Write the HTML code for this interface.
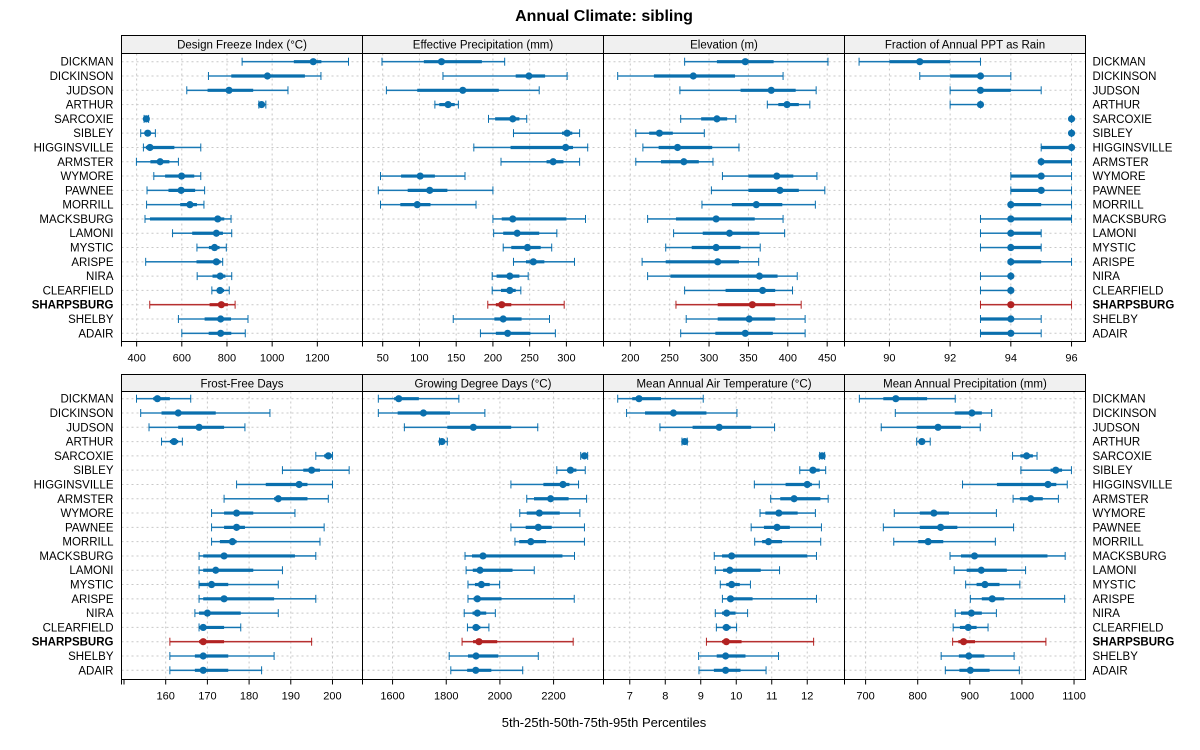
<!DOCTYPE html>
<html><head><meta charset="utf-8"><style>
html,body{margin:0;padding:0;background:#fff;}
svg{display:block;font-family:"Liberation Sans",Arial,sans-serif;}
</style></head><body>
<svg id="chart" width="1200" height="750" viewBox="0 0 1200 750" xmlns="http://www.w3.org/2000/svg">
<text x="604" y="21" text-anchor="middle" font-size="16" font-weight="bold">Annual Climate: sibling</text>
<text x="604" y="727" text-anchor="middle" font-size="13">5th-25th-50th-75th-95th Percentiles</text>
</svg>
<script>
const soils = ["DICKMAN","DICKINSON","JUDSON","ARTHUR","SARCOXIE","SIBLEY","HIGGINSVILLE","ARMSTER","WYMORE","PAWNEE","MORRILL","MACKSBURG","LAMONI","MYSTIC","ARISPE","NIRA","CLEARFIELD","SHARPSBURG","SHELBY","ADAIR"];
const highlight = "SHARPSBURG";
const panelTitles = ["Design Freeze Index (\u00B0C)","Effective Precipitation (mm)","Elevation (m)","Fraction of Annual PPT as Rain","Frost-Free Days","Growing Degree Days (\u00B0C)","Mean Annual Air Temperature (\u00B0C)","Mean Annual Precipitation (mm)"];
const freezeIndex = [[867,1096,1182,1218,1338],[718,819,979,1145,1216],[622,714,809,916,1070],[941,945,953,963,972],[433,436,443,450,453],[418,440,449,461,483],[430,441,459,567,684],[399,461,504,545,585],[476,526,599,655,684],[446,541,597,659,701],[444,593,636,667,698],[437,459,759,788,818],[559,646,753,782,821],[667,720,745,767,797],[440,665,753,772,781],[668,736,770,793,821],[733,756,769,787,810],[458,723,775,804,836],[585,701,772,818,893],[600,719,772,819,881]];
const effPrecip = [[49,106,130,185,216],[132,231,249,271,301],[55,97,159,208,263],[121,127,139,148,153],[194,203,227,236,246],[228,294,301,308,318],[174,224,299,309,329],[211,273,282,296,318],[47,75,101,121,162],[44,84,114,138,200],[47,74,97,115,177],[200,212,227,300,326],[201,214,233,263,287],[214,225,247,265,280],[228,245,255,270,311],[199,205,223,236,248],[199,211,223,231,238],[193,204,212,225,297],[146,202,214,239,277],[183,204,220,251,285]];
const elevation = [[269,310,346,382,451],[184,230,280,333,394],[263,340,379,410,436],[374,388,399,414,428],[264,290,310,323,334],[207,224,237,254,294],[216,236,260,304,338],[207,239,268,287,305],[317,350,386,407,437],[303,350,390,414,447],[291,329,360,393,435],[222,258,309,358,394],[255,292,326,364,396],[245,278,309,340,365],[215,245,311,338,363],[222,251,364,387,412],[269,321,368,384,406],[258,311,355,384,417],[271,311,351,384,422],[264,308,346,381,422]];
const rainFraction = [[89,90,91,92,93],[91,92,93,93,94],[92,93,93,94,95],[92,93,93,93,93],[96,96,96,96,96],[96,96,96,96,96],[95,95,96,96,96],[95,95,95,96,96],[94,94,95,95,96],[94,94,95,95,96],[94,94,94,95,96],[93,94,94,96,96],[93,94,94,95,95],[93,94,94,95,95],[94,94,94,95,96],[93,94,94,94,94],[93,94,94,94,94],[93,94,94,94,96],[93,93,94,94,95],[93,93,94,94,95]];
const frostFree = [[153,157,158,161,166],[154,159,163,172,185],[156,163,168,174,179],[159,161,162,163,164],[196,198,199,200,200],[188,193,195,197,204],[177,184,192,194,200],[174,186,187,194,199],[171,174,177,181,191],[171,174,177,179,198],[171,173,176,177,197],[168,169,174,191,196],[168,169,172,181,188],[168,168,171,175,187],[168,169,174,186,196],[167,168,170,178,187],[168,168,169,174,178],[161,168,169,174,195],[161,167,169,175,186],[161,167,169,175,183]];
const growDegDays = [[1547,1606,1623,1698,1847],[1547,1619,1715,1814,1944],[1644,1804,1901,2042,2141],[1775,1779,1784,1794,1804],[2301,2307,2315,2322,2327],[2212,2251,2263,2285,2318],[2041,2162,2235,2259,2293],[2100,2127,2189,2256,2323],[2074,2100,2147,2223,2298],[2041,2096,2143,2193,2315],[2056,2072,2115,2172,2315],[1870,1896,1937,2233,2278],[1874,1899,1926,2047,2128],[1881,1907,1931,1962,1999],[1881,1902,1916,2006,2277],[1867,1898,1916,1949,1983],[1879,1898,1911,1927,1959],[1859,1900,1922,1990,2273],[1811,1881,1911,1994,2143],[1817,1878,1910,1968,2085]];
const airTemp = [[6.66,7.07,7.26,7.88,9.07],[6.91,7.43,8.23,9.16,10.02],[7.85,8.77,9.52,10.42,11.08],[8.47,8.51,8.55,8.59,8.62],[12.35,12.38,12.42,12.46,12.49],[11.79,12.07,12.16,12.35,12.52],[10.51,11.39,12.0,12.13,12.34],[10.97,11.24,11.63,12.37,12.59],[10.67,10.82,11.2,11.73,12.23],[10.42,10.78,11.15,11.51,12.40],[10.52,10.73,10.91,11.29,12.38],[9.38,9.6,9.87,12.0,12.26],[9.41,9.63,9.82,10.69,11.22],[9.55,9.72,9.87,10.1,10.4],[9.61,9.76,9.84,10.46,12.26],[9.41,9.6,9.73,9.98,10.32],[9.44,9.62,9.72,9.84,10.01],[9.16,9.6,9.72,10.15,12.18],[8.94,9.45,9.7,10.26,11.19],[8.95,9.37,9.7,10.12,10.84]];
const annualPrecip = [[688,734,758,818,872],[757,871,904,923,942],[730,798,839,883,920],[798,804,808,814,824],[982,997,1009,1021,1029],[998,1055,1065,1077,1095],[886,952,1050,1066,1087],[983,996,1017,1040,1070],[755,804,831,860,951],[734,804,844,876,984],[754,801,820,849,949],[862,883,909,1049,1083],[870,894,922,971,1007],[892,913,929,957,996],[901,923,943,966,1082],[872,883,903,923,951],[868,881,897,913,935],[867,878,888,910,1046],[845,879,898,928,985],[853,880,901,938,995]];
const tickLabels = [[400,600,800,1000,1200],[50,100,150,200,250,300],[200,250,300,350,400,450],[90,92,94,96],[160,170,180,190,200],[1600,1800,2000,2200],[7,8,9,10,11,12],[700,800,900,1000,1100]];
const minorTicks = [[],[],[],[],[150],[],[],[]];
const domains = [[333,1400],[22.5,350.5],[166,472],[88.52,96.46],[149.4,207.2],[1488,2386],[6.26,13.05],[659.5,1122]];
const panelData = [freezeIndex,effPrecip,elevation,rainFraction,frostFree,growDegDays,airTemp,annualPrecip];

const NS="http://www.w3.org/2000/svg";
const svg=document.getElementById('chart');
const colX=[[121.5,362.5],[362.5,603.5],[603.5,844.5],[844.5,1085.5]];
const rowsY=[{top:35.5,strip:53.5,bottom:341.5,first:61.7,last:333.3},{top:374.5,strip:391.5,bottom:679.5,first:398.7,last:670.3}];
function mk(tag,attrs,parent){const e=document.createElementNS(NS,tag);for(const k in attrs)e.setAttribute(k,attrs[k]);(parent||svg).appendChild(e);return e;}
const BLUE="#0a6fad",BLUEL="#4a97c9",RED="#b22222",REDL="#c55a5a";
const nRows=soils.length;

for(let p=0;p<8;p++){
  const c=p%4,r=Math.floor(p/4);
  const [x0,x1]=colX[c];const R=rowsY[r];
  const [d0,d1]=domains[p];
  const xs=v=>x0+(v-d0)/(d1-d0)*(x1-x0);
  const ys=i=>R.first+i*(R.last-R.first)/(nRows-1);
  const g=mk('g',{});
  
  
  const st=mk('rect',{x:x0,y:R.top,width:x1-x0,height:R.strip-R.top,fill:'#f0f0f0',stroke:'#000','stroke-width':1},g);
  
  
  const stt=mk('text',{x:(x0+x1)/2,y:R.top+13,'text-anchor':'middle','font-size':11.5},g);
  stt.textContent=panelTitles[p];
  
  
  tickLabels[p].forEach(t=>{mk('line',{x1:xs(t),x2:xs(t),y1:R.strip,y2:R.bottom,stroke:'#c8c8c8','stroke-dasharray':'2,3','stroke-width':1},g);});
  for(let i=0;i<nRows;i++){mk('line',{x1:x0,x2:x1,y1:ys(i),y2:ys(i),stroke:'#c8c8c8','stroke-dasharray':'2,3','stroke-width':1},g);}
  tickLabels[p].forEach(t=>{
    mk('line',{x1:xs(t),x2:xs(t),y1:R.bottom,y2:R.bottom+5,stroke:'#000'},g);
    const tl=mk('text',{x:xs(t),y:R.bottom+20,'text-anchor':'middle','font-size':11},g);
    tl.textContent=t;
    
    
  });
  minorTicks[p].forEach(t=>{mk('line',{x1:xs(t),x2:xs(t),y1:R.bottom,y2:R.bottom+5,stroke:'#000'},g);});
  mk('line',{x1:x0,x2:x0,y1:R.bottom,y2:R.bottom+5,stroke:'#000'},g);
  const data=panelData[p];
  data.forEach((q,i)=>{
    const isH=soils[i]===highlight;
    const col=isH?RED:BLUE,lc=isH?REDL:BLUEL;
    const y=ys(i);
    const m=mk('g',{},g);
    
    
    mk('line',{x1:xs(q[0]),x2:xs(q[4]),y1:y,y2:y,stroke:lc,'stroke-width':1.6},m);
    mk('line',{x1:xs(q[0]),x2:xs(q[4]),y1:y,y2:y,stroke:col,'stroke-width':0.8},m);
    mk('line',{x1:xs(q[0]),x2:xs(q[0]),y1:y-4,y2:y+4,stroke:col,'stroke-width':1},m);
    mk('line',{x1:xs(q[4]),x2:xs(q[4]),y1:y-4,y2:y+4,stroke:col,'stroke-width':1},m);
    mk('line',{x1:xs(q[1]),x2:xs(q[3]),y1:y,y2:y,stroke:col,'stroke-width':3.2},m);
    mk('circle',{cx:xs(q[2]),cy:y,r:3.6,fill:col},m);
  });
  mk('rect',{x:x0,y:R.strip,width:x1-x0,height:R.bottom-R.strip,fill:'none',stroke:'#000','stroke-width':1},g);
  if(c===0||c===3){
    for(let i=0;i<nRows;i++){
      const t=mk('text',{x:c===0?x0-8:x1+7,y:ys(i)+4,'text-anchor':c===0?'end':'start','font-size':11.5},g);
      if(soils[i]===highlight)t.setAttribute('font-weight','bold');
      t.textContent=soils[i];
      
      
    }
  }
}
</script>
</body></html>
